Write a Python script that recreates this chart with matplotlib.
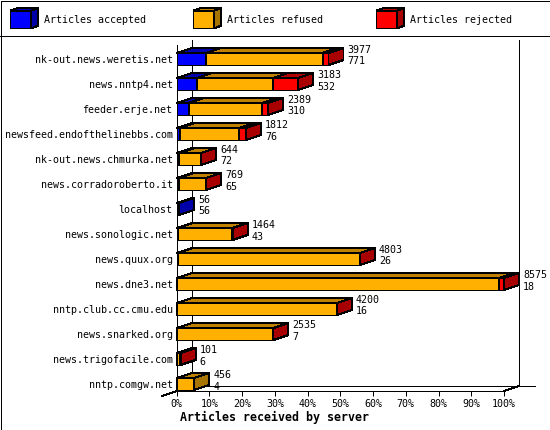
import matplotlib
matplotlib.use('Agg')
import matplotlib.pyplot as plt
from matplotlib.patches import Polygon, Rectangle
from matplotlib.lines import Line2D

plt.rcParams['font.family'] = 'DejaVu Sans Mono'
plt.rcParams['font.size'] = 7.2

servers = ['nk-out.news.weretis.net', 'news.nntp4.net', 'feeder.erje.net',
           'newsfeed.endofthelinebbs.com', 'nk-out.news.chmurka.net',
           'news.corradoroberto.it', 'localhost', 'news.sonologic.net',
           'news.quux.org', 'news.dne3.net', 'nntp.club.cc.cmu.edu',
           'news.snarked.org', 'news.trigofacile.com', 'nntp.comgw.net']
total = [3977, 3183, 2389, 1812, 644, 769, 56, 1464, 4803, 8575, 4200, 2535, 101, 456]
accepted = [771, 532, 310, 76, 72, 65, 56, 43, 26, 18, 16, 7, 6, 4]
rejected = [157, 670, 165, 180, 4, 4, 0, 4, 5, 130, 5, 4, 20, 0]
refused = [3049, 1981, 1914, 1556, 568, 700, 0, 1417, 4772, 8427, 4179, 2524, 75, 452]
ticks = list(range(0, 101, 10))

colors = ['#0000ff', '#ffb000', '#ff0000']
tops = ['#0000b0', '#c08000', '#b00000']
sides = ['#0000a8', '#a87400', '#a80000']
names = ['Articles accepted', 'Articles refused', 'Articles rejected']

px = 1 / 100 * 72
fig = plt.figure(figsize=(5.5, 4.3), dpi=100, facecolor='white')

# axes box is the front face of the plot, in pixels
ax = fig.add_axes([176.7 / 550, (430 - 391) / 430, 327.3 / 550, 346 / 430])
ax.set_xlim(0, 100)
ax.set_ylim((391 - 59) / 25, (45 - 59) / 25)
dx = 15 / 3.273
dy = -5 / 25
bar_h = 0.48


def cuboid(a, x0, x1, yc, h, ddx, ddy, k, z):
    y0, y1 = yc - h / 2, yc + h / 2
    for pts, col in [([(x0, y0), (x1, y0), (x1, y1), (x0, y1)], colors[k]),
                     ([(x0, y0), (x0 + ddx, y0 + ddy), (x1 + ddx, y0 + ddy), (x1, y0)], tops[k]),
                     ([(x1, y0), (x1 + ddx, y0 + ddy), (x1 + ddx, y1 + ddy), (x1, y1)], sides[k])]:
        a.add_patch(Polygon(pts, closed=True, facecolor=col, edgecolor='black', linewidth=px,
                            antialiased=False, clip_on=False, zorder=z))


# back walls and floor
line = dict(color='black', linewidth=px, antialiased=False, clip_on=False, zorder=1)
ax.plot([dx, dx], [(40 - 59) / 25, ax.get_ylim()[0] + dy], **line)
ax.plot([100 + dx, 100 + dx], [(40 - 59) / 25, ax.get_ylim()[0] + dy], **line)
ax.plot([dx, 100 + dx + 16 / 3.273], [ax.get_ylim()[0] + dy] * 2, **line)
ax.plot([0, dx], [ax.get_ylim()[0], ax.get_ylim()[0] + dy], **line)
ax.plot([100, 100 + dx], [ax.get_ylim()[0], ax.get_ylim()[0] + dy], **line)
ax.plot([-dx, 0], [ax.get_ylim()[0] - dy, ax.get_ylim()[0]], **line)

scale = 100 / max(total)
z = 3
for i in range(len(servers)):
    left = 0
    for k, vals in enumerate([accepted, refused, rejected]):
        if vals[i] == 0:
            continue
        width = vals[i] * scale
        cuboid(ax, left, left + width, i, bar_h, dx, dy, k, z)
        left += width
        z += 1
    end = total[i] * scale + dx + 4 / 3.273
    ax.text(end, i - 9 / 25, str(total[i]), va='center', ha='left', zorder=100)
    ax.text(end, i + 2.5 / 25, str(accepted[i]), va='center', ha='left', zorder=100)

ax.set_yticks(range(len(servers)))
ax.set_yticklabels(servers)
ax.set_xticks(ticks)
ax.set_xticklabels([f'{t}%' for t in ticks])
ax.tick_params(axis='y', length=0, pad=3)
ax.tick_params(axis='x', length=3.6, width=px, pad=2.5)
for s in ['top', 'right']:
    ax.spines[s].set_visible(False)
for s in ['left', 'bottom']:
    ax.spines[s].set_linewidth(px)
    ax.spines[s].set_antialiased(False)
ax.patch.set_alpha(0)
ax.set_xlabel('Articles received by server', fontsize=8.4, fontweight='bold')
ax.xaxis.set_label_coords((274 - 176.7) / 327.3, (391 - 417) / 346)
ax.xaxis.label.set_va('center')

# legend strip and frame, drawn in pixel coordinates
lg = fig.add_axes([0, 0, 1, 1], zorder=-1)
lg.set_xlim(0, 550)
lg.set_ylim(430, 0)
lg.axis('off')
for k, name in enumerate(names):
    x0 = 10.3 + 183 * k
    cuboid(lg, x0, x0 + 20.7, 19.5, 17.6, 7, -2.5, k, 3)
    lg.text(x0 + 34, 20, name, va='center', ha='left')
lg.add_patch(Rectangle((0.5, 0.5), 549, 429, fill=False, edgecolor='black', linewidth=px, antialiased=False))
lg.add_line(Line2D([0, 550], [35.5, 35.5], color='black', linewidth=px, antialiased=False))

fig.savefig('out.png', dpi=100, facecolor='white')
